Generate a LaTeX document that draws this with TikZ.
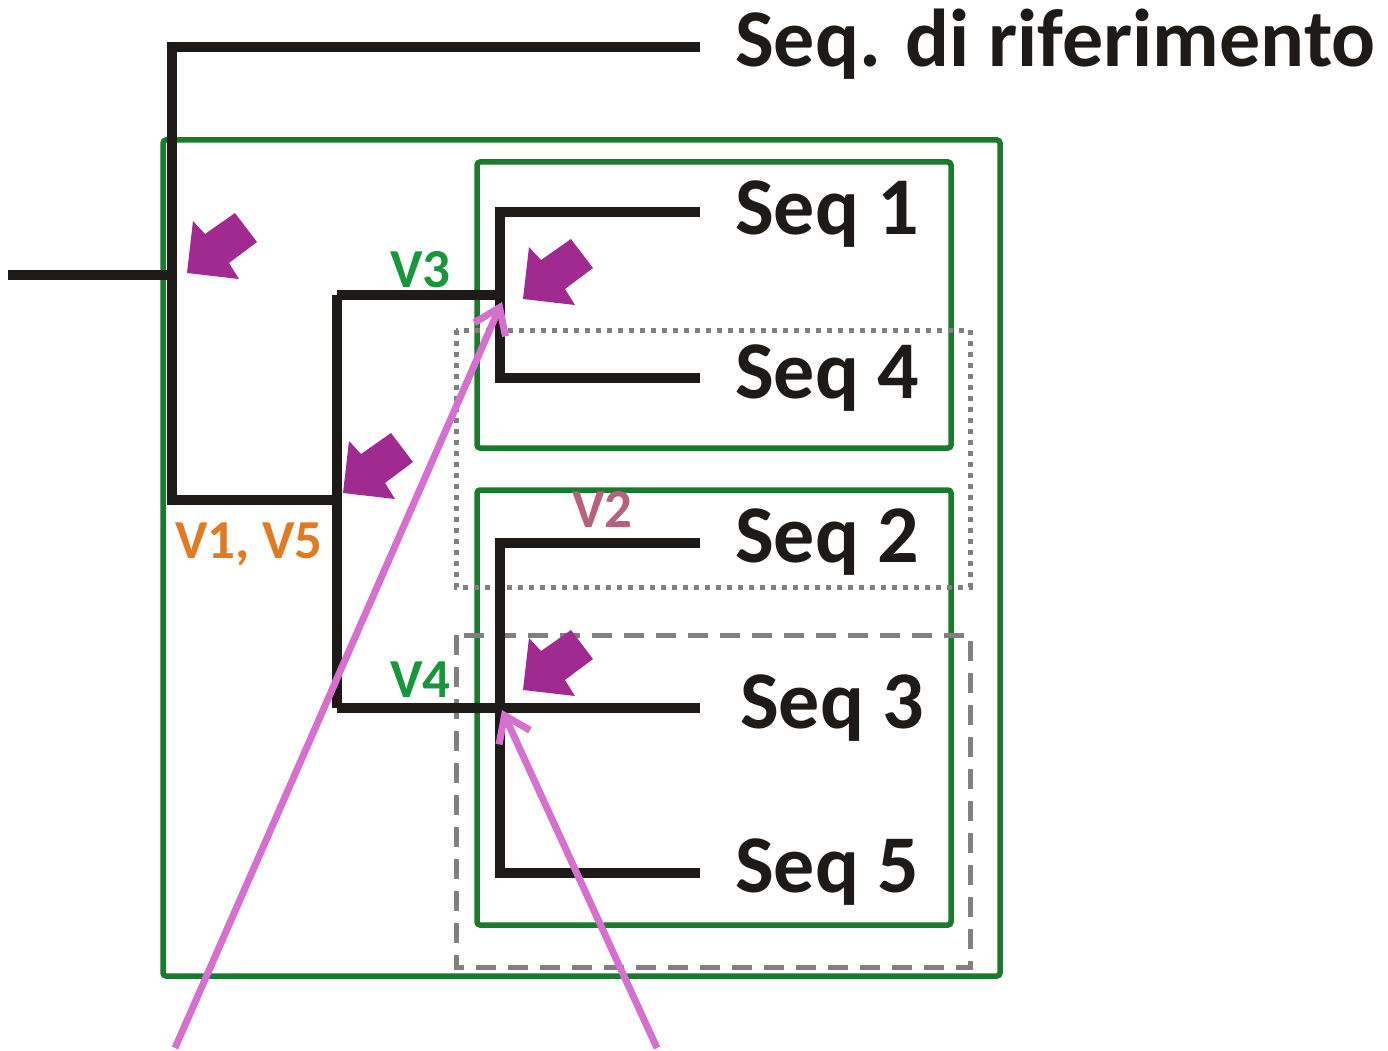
\documentclass[tikz,border=0pt]{standalone}
\usepackage{fontspec}
\setmainfont{Carlito}
\usetikzlibrary{arrows.meta}
\definecolor{treeblack}{HTML}{1E1A17}
\definecolor{boxgreen}{HTML}{1B7A2C}
\definecolor{labgreen}{HTML}{17973A}
\definecolor{laborange}{HTML}{E07B22}
\definecolor{labmauve}{HTML}{B9607C}
\definecolor{blockpurple}{HTML}{A02A90}
\definecolor{linepink}{HTML}{D670CF}
\definecolor{boxgray}{HTML}{808080}
\begin{document}
\begin{tikzpicture}[x=1pt,y=-1pt,
  branch/.style={draw=treeblack,line width=9.5pt,line join=miter},
  greenbox/.style={draw=boxgreen,line width=5.5pt,rounded corners=3pt},
  dotbox/.style={draw=boxgray,line width=5pt,dash pattern=on 5pt off 6pt},
  dashbox/.style={draw=boxgray,line width=5pt,dash pattern=on 20pt off 12pt},
  seqlabel/.style={anchor=base west,inner sep=0pt,text=treeblack,font=\bfseries\fontsize{82}{82}\selectfont},
  vlabel/.style={anchor=base west,inner sep=0pt,font=\bfseries\fontsize{55}{55}\selectfont},
  pinkarrow/.style={draw=linepink,line width=7pt,-{Straight Barb[length=24pt,width=34pt,line width=7pt]}},
  blockarrow/.pic={\fill[blockpurple] (0,0) -- (6,-52) -- (18,-39) -- (48,-60) -- (70,-31) -- (42,-10) -- (52,6) -- cycle;}
]
\useasboundingbox (0,0) rectangle (1388,1051);

% boxes
\draw[greenbox] (163,140) rectangle (1000,976);
\draw[greenbox] (477,162) rectangle (951,448);
\draw[greenbox] (477,490) rectangle (951,925);
\draw[dotbox] (456,330) rectangle (970,587);
\draw[dashbox] (456,635) rectangle (970,967);

% tree coordinates
\coordinate (root) at (8,275);
\coordinate (rootj) at (172,275);
\coordinate (reftop) at (172,47);
\coordinate (refend) at (700,47);
\coordinate (n1) at (172,500);
\coordinate (n2) at (337,500);
\coordinate (n2top) at (337,295);
\coordinate (n2bot) at (337,708);
\coordinate (n3) at (500,295);
\coordinate (n3top) at (500,212);
\coordinate (n3bot) at (500,378);
\coordinate (s1) at (700,212);
\coordinate (s4) at (700,378);
\coordinate (n4) at (500,708);
\coordinate (n4top) at (500,543);
\coordinate (n4bot) at (500,873);
\coordinate (s2) at (700,543);
\coordinate (s3) at (700,708);
\coordinate (s5) at (700,873);

\draw[branch] (root) -- (rootj);
\draw[branch] (refend) -- (reftop) -- (n1) -- (n2);
\draw[branch] (n2top) -- (n2bot);
\draw[branch] (n2top) -- (n3);
\draw[branch] (s1) -- (n3top) -- (n3bot) -- (s4);
\draw[branch] (n2bot) -- (s3);
\draw[branch] (s2) -- (n4top) -- (n4bot) -- (s5);

% sequence labels
\node[seqlabel] (lref) at (735,67) {Seq. di riferimento};
\node[seqlabel] (l1) at (735,234) {Seq 1};
\node[seqlabel] (l4) at (735,398) {Seq 4};
\node[seqlabel] (l2) at (735,562) {Seq 2};
\node[seqlabel] (l3) at (740,728) {Seq 3};
\node[seqlabel] (l5) at (735,892) {Seq 5};

% variant labels
\node[vlabel,text=labgreen] (v3) at (390,287) {V3};
\node[vlabel,text=laborange] (v15) at (175,558) {V1, V5};
\node[vlabel,text=labmauve] (v2) at (572,527) {V2};
\node[vlabel,text=labgreen] (v4) at (390,697) {V4};

% purple block arrows
\pic at (187,273) {blockarrow};
\pic at (343,493) {blockarrow};
\pic at (523,299) {blockarrow};
\pic at (523,690) {blockarrow};

% pink arrows
\coordinate (p1start) at (175,1048);
\coordinate (p1tip) at (502,302);
\coordinate (p2start) at (657,1048);
\coordinate (p2tip) at (502,710);
\draw[pinkarrow] (p1start) -- (p1tip);
\draw[pinkarrow] (p2start) -- (p2tip);
\end{tikzpicture}
\end{document}
